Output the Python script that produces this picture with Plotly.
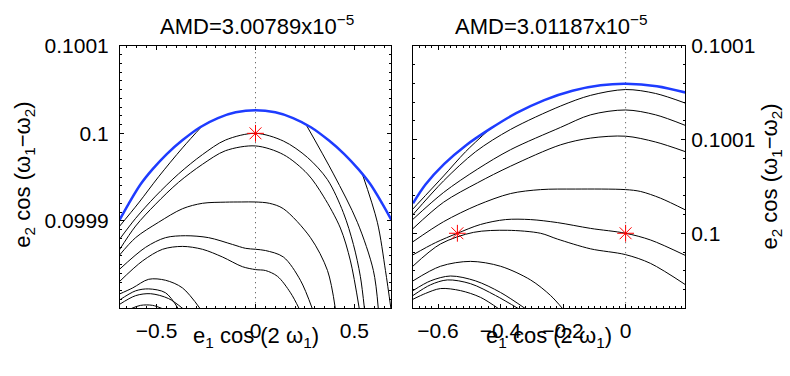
import plotly.graph_objects as go

# e2 cos(w1-w2) values are stored as offsets from 0.1, in units of 1e-4
E2_REF = 0.1
E2_UNIT = 1e-4

titles = ["AMD=3.00789x10<sup>\u22125</sup>", "AMD=3.01187x10<sup>\u22125</sup>"]
xlabel = "e<sub>1</sub> cos (2 \u03c9<sub>1</sub>)"
ylabel = "e<sub>2</sub> cos (\u03c9<sub>1</sub>\u2212\u03c9<sub>2</sub>)"

# ---------------- left panel ----------------
left_xticks = [-0.5, 0, 0.5]
left_xticklabels = ["\u22120.5", "0", "0.5"]
left_yticks = [0.0999, 0.1, 0.1001]
left_yticklabels = ["0.0999", "0.1", "0.1001"]

left_blue_x = [-0.687, -0.64, -0.58, -0.52, -0.45, -0.37, -0.28, -0.19, -0.10, 0,
               0.10, 0.19, 0.28, 0.37, 0.45, 0.52, 0.58, 0.64, 0.687]
left_blue_y = [-0.99, -0.80, -0.58, -0.41, -0.24, -0.08, 0.07, 0.175, 0.24, 0.265,
               0.24, 0.175, 0.07, -0.08, -0.24, -0.41, -0.58, -0.80, -0.99]

left_l0_x = [-0.268, -0.369, -0.490, -0.591, -0.69]
left_l0_y = [0.088, -0.166, -0.497, -0.796, -1.07]

left_star_x = [-0.69, -0.606, -0.505, -0.389, -0.268, -0.152, 0, 0.141, 0.263, 0.364, 0.444, 0.495, 0.530, 0.551]
left_star_y = [-1.22, -0.972, -0.718, -0.464, -0.243, -0.077, 0, -0.088, -0.276, -0.530, -0.906, -1.271, -1.635, -2.01]

left_c2_x = [-0.69, -0.606, -0.505, -0.389, -0.268, -0.152, 0, 0.141, 0.263, 0.343, 0.429, 0.480, 0.525]
left_c2_y = [-1.34, -1.06, -0.81, -0.56, -0.354, -0.199, -0.144, -0.243, -0.464, -0.718, -1.083, -1.459, -2.01]

left_c3_x = [-0.69, -0.606, -0.490, -0.369, -0.268, -0.152, -0.07, 0, 0.07, 0.141, 0.278, 0.364, 0.404]
left_c3_y = [-1.40, -1.193, -1.017, -0.862, -0.80, -0.787, -0.785, -0.785, -0.80, -0.862, -1.193, -1.569, -2.01]

left_c4_x = [-0.69, -0.556, -0.455, -0.354, -0.237, -0.116, -0.05, 0, 0.05, 0.141, 0.227, 0.288]
left_c4_y = [-1.56, -1.304, -1.193, -1.171, -1.193, -1.271, -1.315, -1.326, -1.34, -1.414, -1.680, -2.01]

left_c5_x = [-0.69, -0.571, -0.470, -0.369, -0.268, -0.167, -0.066, 0, 0.051, 0.111, 0.177, 0.222]
left_c5_y = [-1.70, -1.459, -1.326, -1.293, -1.326, -1.414, -1.525, -1.558, -1.569, -1.635, -1.823, -2.01]

left_c6_x = [-0.69, -0.621, -0.540, -0.455, -0.369, -0.278]
left_c6_y = [-1.84, -1.768, -1.669, -1.680, -1.768, -2.01]

left_c7_x = [-0.69, -0.606, -0.540, -0.455, -0.389]
left_c7_y = [-1.91, -1.801, -1.779, -1.823, -2.01]

left_c8_x = [-0.69, -0.606, -0.530, -0.439, -0.364]
left_c8_y = [-1.96, -1.856, -1.834, -1.890, -2.01]

left_c9_x = [-0.635, -0.581, -0.520, -0.465]
left_c9_y = [-2.01, -1.967, -1.967, -2.01]

left_l6_x = [0.253, 0.394, 0.515, 0.596, 0.621]
left_l6_y = [0.110, -0.464, -1.017, -1.569, -2.01]

left_l7_x = [0.540, 0.616, 0.657, 0.685]
left_l7_y = [-0.464, -1.017, -1.569, -2.01]

left_stars_x = [0]
left_stars_y = [0]

# ---------------- right panel ----------------
right_xticks = [-0.6, -0.4, -0.2, 0]
right_xticklabels = ["\u22120.6", "\u22120.4", "\u22120.2", "0"]
right_yticks = [0.1, 0.10005, 0.1001]
right_yticklabels = ["0.1", "0.1001", "0.1001"]

right_blue_x = [-0.68, -0.64, -0.58, -0.51, -0.43, -0.35, -0.26, -0.17, -0.08, 0, 0.10, 0.192]
right_blue_y = [0.16, 0.26, 0.37, 0.47, 0.561, 0.641, 0.711, 0.761, 0.790, 0.798, 0.785, 0.751]

right_r0_x = [-0.432, -0.512, -0.582, -0.640, -0.68]
right_r0_y = [0.560, 0.435, 0.306, 0.202, 0.13]

right_r1_x = [-0.68, -0.582, -0.48, -0.368, -0.208, -0.112, 0, 0.096, 0.192]
right_r1_y = [0.10, 0.280, 0.435, 0.554, 0.679, 0.736, 0.767, 0.746, 0.694]

right_r2_x = [-0.68, -0.582, -0.474, -0.368, -0.208, -0.112, 0, 0.096, 0.192]
right_r2_y = [0.075, 0.218, 0.342, 0.446, 0.565, 0.632, 0.658, 0.632, 0.575]

right_r3_x = [-0.68, -0.582, -0.474, -0.368, -0.208, -0.112, 0, 0.096, 0.192]
right_r3_y = [0.025, 0.166, 0.269, 0.358, 0.472, 0.508, 0.518, 0.487, 0.435]

right_r4_x = [-0.68, -0.582, -0.474, -0.368, -0.272, -0.160, 0, 0.048, 0.112, 0.192]
right_r4_y = [-0.045, 0.062, 0.150, 0.212, 0.233, 0.236, 0.233, 0.223, 0.187, 0.124]

right_r5_x = [-0.68, -0.608, -0.538, -0.464, -0.384, -0.304, -0.218, -0.112, 0, 0.080, 0.192]
right_r5_y = [-0.115, -0.050, 0, 0.047, 0.073, 0.073, 0.057, 0.026, 0, -0.036, -0.119]

right_r6_x = [-0.68, -0.592, -0.486, -0.378, -0.272, -0.218, -0.112, 0, 0.080, 0.192]
right_r6_y = [-0.175, -0.057, 0.005, 0.016, 0, -0.031, -0.083, -0.114, -0.161, -0.275]

right_r7_x = [-0.68, -0.592, -0.496, -0.4, -0.304, -0.240, -0.200]
right_r7_y = [-0.254, -0.176, -0.150, -0.176, -0.249, -0.332, -0.405]

right_r8_x = [-0.68, -0.624, -0.560, -0.48, -0.4, -0.318]
right_r8_y = [-0.306, -0.254, -0.228, -0.254, -0.316, -0.405]

right_r9_x = [-0.68, -0.624, -0.570, -0.496, -0.416, -0.340]
right_r9_y = [-0.332, -0.275, -0.249, -0.269, -0.332, -0.405]

right_r10_x = [-0.68, -0.640, -0.592, -0.528, -0.464, -0.404]
right_r10_y = [-0.352, -0.321, -0.295, -0.306, -0.342, -0.405]

right_stars_x = [-0.538, 0]
right_stars_y = [0, 0]


def e2(vals):
    return [E2_REF + v * E2_UNIT for v in vals]


FONT = "Liberation Sans, Arial, sans-serif"
BLUE = "rgb(30,60,255)"

fig = go.Figure()

left_black = [(left_l0_x, left_l0_y), (left_star_x, left_star_y), (left_c2_x, left_c2_y),
              (left_c3_x, left_c3_y), (left_c4_x, left_c4_y), (left_c5_x, left_c5_y),
              (left_c6_x, left_c6_y), (left_c7_x, left_c7_y), (left_c8_x, left_c8_y),
              (left_c9_x, left_c9_y), (left_l6_x, left_l6_y), (left_l7_x, left_l7_y)]
right_black = [(right_r0_x, right_r0_y), (right_r1_x, right_r1_y), (right_r2_x, right_r2_y),
               (right_r3_x, right_r3_y), (right_r4_x, right_r4_y), (right_r5_x, right_r5_y),
               (right_r6_x, right_r6_y), (right_r7_x, right_r7_y), (right_r8_x, right_r8_y),
               (right_r9_x, right_r9_y), (right_r10_x, right_r10_y)]

for ax, curves, blue, stars in [("", left_black, (left_blue_x, left_blue_y), (left_stars_x, left_stars_y)),
                                ("2", right_black, (right_blue_x, right_blue_y), (right_stars_x, right_stars_y))]:
    for cx, cy in curves:
        fig.add_trace(go.Scatter(x=cx, y=e2(cy), mode="lines", xaxis="x" + ax, yaxis="y" + ax,
                                 line=dict(color="black", width=1, shape="spline", smoothing=0.9),
                                 hoverinfo="skip", showlegend=False))
    fig.add_trace(go.Scatter(x=blue[0], y=e2(blue[1]), mode="lines", xaxis="x" + ax, yaxis="y" + ax,
                             line=dict(color=BLUE, width=2.5, shape="spline", smoothing=0.9),
                             hoverinfo="skip", showlegend=False))
    fig.add_trace(go.Scatter(x=stars[0], y=e2(stars[1]), mode="markers", xaxis="x" + ax, yaxis="y" + ax,
                             marker=dict(symbol="asterisk-open", size=14, color="red",
                                         line=dict(color="red", width=1)),
                             hoverinfo="skip", showlegend=False))
    fig.add_shape(type="line", xref="x" + ax, yref=("y" + ax) + " domain", x0=0, x1=0, y0=0, y1=1,
                  line=dict(color="#444", width=1, dash="1px,4px"), layer="below")

axis_common = dict(showline=True, linecolor="black", linewidth=1, mirror="allticks",
                   ticks="inside", ticklen=4, tickcolor="black", showgrid=False, zeroline=False,
                   tickfont=dict(family=FONT, size=21, color="black"))

ydom = [1 - 306 / 376, 1 - 35 / 376]
fig.update_layout(
    width=790, height=376, margin=dict(l=0, r=0, t=0, b=0),
    paper_bgcolor="white", plot_bgcolor="white", showlegend=False,
    xaxis=dict(domain=[120 / 790, 391 / 790], range=[-0.685, 0.685], anchor="y",
               tickvals=left_xticks, ticktext=left_xticklabels, ticklabelstandoff=4,
               minor=dict(ticks="inside", ticklen=2, dtick=0.05, tick0=0, tickcolor="black"),
               **axis_common),
    yaxis=dict(domain=ydom, range=[0.0998, 0.1001], anchor="x",
               tickvals=left_yticks, ticktext=left_yticklabels, ticklabelstandoff=6,
               minor=dict(ticks="inside", ticklen=2, dtick=1e-5, tick0=0.1, tickcolor="black"),
               **axis_common),
    xaxis2=dict(domain=[413 / 790, 685 / 790], range=[-0.68, 0.19], anchor="y2",
                tickvals=right_xticks, ticktext=right_xticklabels, ticklabelstandoff=4,
                minor=dict(ticks="inside", ticklen=2, dtick=0.02, tick0=0, tickcolor="black"),
                **axis_common),
    yaxis2=dict(domain=ydom, range=[0.09996, 0.1001], anchor="x2", side="right",
                tickvals=right_yticks, ticktext=right_yticklabels, ticklabelstandoff=1,
                minor=dict(ticks="inside", ticklen=2, dtick=1e-5, tick0=0.1, tickcolor="black"),
                **axis_common),
)

text_font = dict(family=FONT, size=22, color="black")
annots = [
    dict(text=titles[0], x=257 / 790, y=1 - 13 / 376),
    dict(text=titles[1], x=551 / 790, y=1 - 13 / 376),
    dict(text=xlabel, x=256 / 790, y=1 - 336 / 376),
    dict(text=xlabel, x=549 / 790, y=1 - 336 / 376),
    dict(text=ylabel, x=24 / 790, y=1 - 168 / 376, textangle=-90),
    dict(text=ylabel, x=771 / 790, y=1 - 170 / 376, textangle=-90),
]
for a in annots:
    fig.add_annotation(xref="paper", yref="paper", showarrow=False, font=text_font,
                       xanchor="center", yanchor="middle", **a)

# the page body has a default 8px margin; drop it so the figure fills the window
fig.write_html("out.html", config={"displayModeBar": False},
               post_script="document.body.style.margin='0';")
